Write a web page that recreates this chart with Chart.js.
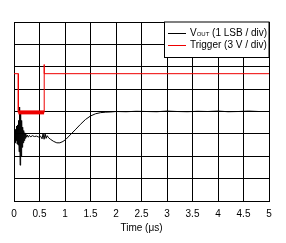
<!DOCTYPE html>
<html>
<head>
<meta charset="utf-8">
<script src="https://cdn.jsdelivr.net/npm/chart.js@4"></script>
<style>
  html, body { margin: 0; padding: 0; background: #fff; }
  canvas { display: block; }
</style>
</head>
<body>
<canvas id="chart" width="286" height="243"></canvas>
<script>
// Time axis (µs) and divisions for each trace
const voutTime = [0, 0.01, 0.02, 0.03, 0.04, 0.05, 0.06, 0.07, 0.08, 0.09, 0.10, 0.11, 0.12, 0.13, 0.14, 0.15,
    0.16, 0.17, 0.18, 0.19, 0.20, 0.21, 0.22, 0.23, 0.24, 0.26, 0.28, 0.30, 0.33, 0.36, 0.40, 0.44, 0.48,
    0.52, 0.55, 0.57, 0.59, 0.61, 0.63, 0.65, 0.68, 0.72, 0.78, 0.84, 0.90, 0.96, 1.02, 1.10, 1.20, 1.30,
    1.40, 1.50, 1.60, 1.70, 1.80, 1.90, 2.00, 2.20, 2.40, 2.60, 2.80, 3.00, 3.20, 3.40, 3.60, 3.80, 4.00,
    4.20, 4.40, 4.60, 4.80, 5.00];
const voutDiv = [2.9, 3.3, 2.6, 3.2, 2.7, 3.35, 2.55, 3.4, 2.5, 3.6, 2.2, 4.2, 1.6, 3.9, 2.0, 3.6,
    2.4, 3.3, 2.6, 3.15, 2.7, 3.05, 2.8, 3.0, 2.85, 2.95, 2.85, 2.93, 2.87, 2.92, 2.88, 2.9, 2.86,
    2.9, 2.78, 3.02, 2.76, 3.0, 2.8, 2.92, 2.82, 2.75, 2.66, 2.6, 2.6, 2.66, 2.76, 2.95, 3.18, 3.42,
    3.64, 3.8, 3.9, 3.95, 3.97, 3.98, 4.0, 3.99, 4.01, 4.0, 3.99, 4.02, 4.0, 3.99, 4.01, 4.0, 4.02,
    3.99, 4.0, 4.02, 4.0, 4.0];

const triggerTime = [0, 0.085, 0.085, 0.59, 0.59, 0.595, 5];
const triggerDiv = [5.69, 5.69, 3.96, 3.96, 6.1, 5.69, 5.69];

const xTicks = { min: 0, max: 5, step: 0.5 };
const yTicks = { min: 0, max: 8, step: 1 };

const legendItems = ['VOUT (1 LSB / div)', 'Trigger (3 V / div)'];
const FONT = 'Arial, "Liberation Sans", sans-serif';

function toPoints(xs, ys) {
    return xs.map((x, i) => ({ x: x, y: ys[i] }));
}

// Legend box drawn inside the plot, top right
const boxLegend = {
    id: 'boxLegend',
    afterDatasetsDraw(chart) {
        const ctx = chart.ctx;
        const area = chart.chartArea;
        const x0 = 164.5, y0 = area.top;
        const x1 = area.right, y1 = 57.5;
        ctx.save();
        ctx.fillStyle = '#fff';
        ctx.fillRect(x0, y0, x1 - x0, y1 - y0);
        ctx.strokeStyle = '#000';
        ctx.lineWidth = 1;
        ctx.strokeRect(x0, y0, x1 - x0, y1 - y0);

        const colors = ['#000', '#e00'];
        const rows = [33.5, 45.5];
        rows.forEach((y, i) => {
            ctx.strokeStyle = colors[i];
            ctx.beginPath();
            ctx.moveTo(168, y);
            ctx.lineTo(186, y);
            ctx.stroke();
        });

        ctx.fillStyle = '#000';
        ctx.textBaseline = 'middle';
        ctx.textAlign = 'left';
        // V with OUT subscript
        ctx.font = '10px ' + FONT;
        let tx = 190;
        ctx.fillText('V', tx, rows[0]);
        tx += ctx.measureText('V').width;
        ctx.font = '6px ' + FONT;
        ctx.fillText('OUT', tx, rows[0] + 1);
        tx += ctx.measureText('OUT').width;
        ctx.font = '10px ' + FONT;
        ctx.fillText(' (1 LSB / div)', tx, rows[0]);
        ctx.fillText(legendItems[1], 190, rows[1]);
        ctx.restore();
    }
};

const chart = new Chart(document.getElementById('chart'), {
    type: 'line',
    data: {
        datasets: [
            {
                label: legendItems[1],
                data: toPoints(triggerTime, triggerDiv),
                borderColor: '#e00',
                borderWidth: 1,
                pointRadius: 0,
                tension: 0,
                segment: {
                    borderWidth: c => (c.p0.parsed.y === c.p1.parsed.y && c.p0.parsed.y < 4.5) ? 4 : 1
                }
            },
            {
                label: legendItems[0],
                data: toPoints(voutTime, voutDiv),
                borderColor: '#000',
                borderWidth: 1,
                pointRadius: 0,
                tension: 0
            }
        ]
    },
    options: {
        responsive: false,
        animation: false,
        layout: { padding: { left: 14, right: 17, top: 22, bottom: 9 } },
        plugins: { legend: { display: false }, tooltip: { enabled: false } },
        scales: {
            x: {
                type: 'linear',
                min: xTicks.min,
                max: xTicks.max,
                grid: { color: '#000', lineWidth: 1, drawTicks: false },
                border: { color: '#000', width: 1 },
                ticks: {
                    stepSize: xTicks.step,
                    color: '#000',
                    padding: 7,
                    font: { family: FONT, size: 10 },
                    callback: v => String(Math.round(v * 10) / 10)
                },
                title: {
                    display: true,
                    text: 'Time (μs)',
                    color: '#000',
                    padding: { top: -5, bottom: 0 },
                    font: { family: FONT, size: 10 }
                }
            },
            y: {
                min: yTicks.min,
                max: yTicks.max,
                grid: { color: '#000', lineWidth: 1, drawTicks: false },
                border: { color: '#000', width: 1 },
                ticks: { stepSize: yTicks.step, display: false }
            }
        }
    },
    plugins: [boxLegend]
});
</script>
</body>
</html>
